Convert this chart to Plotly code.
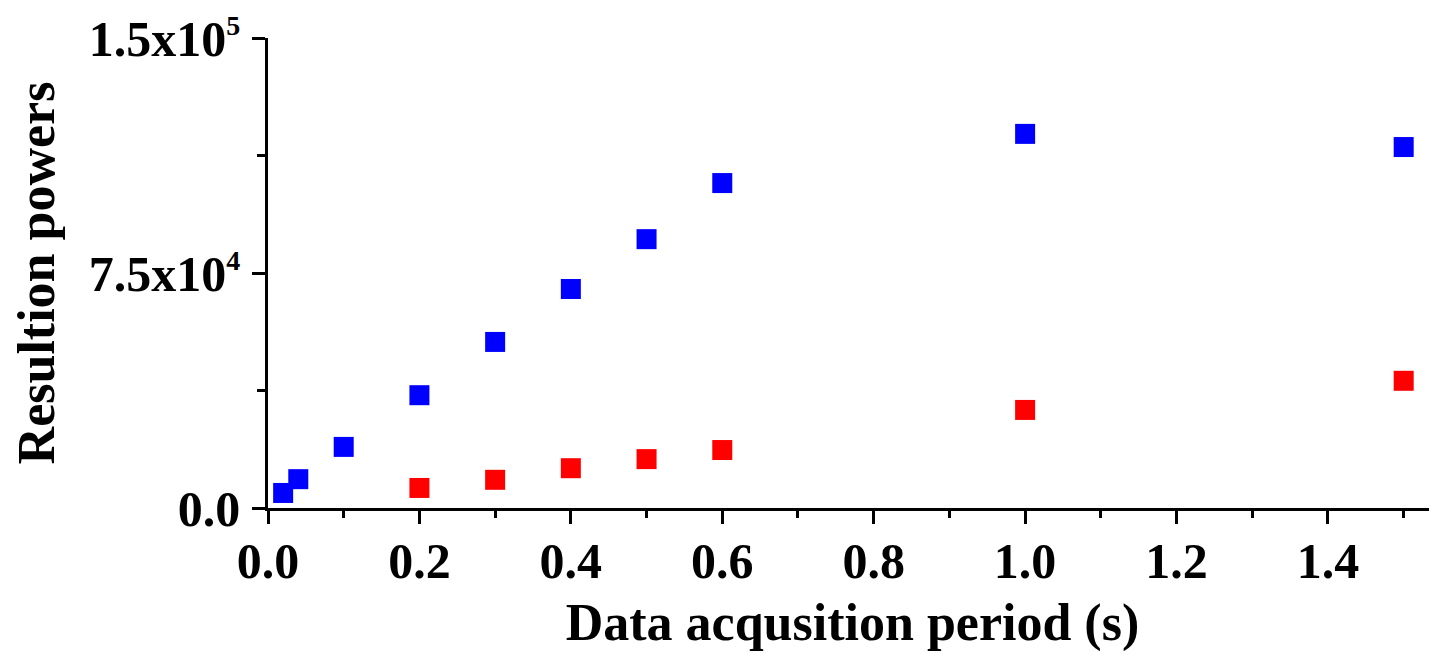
import plotly.graph_objects as go

# Data
blue_x = [0.02, 0.04, 0.1, 0.2, 0.3, 0.4, 0.5, 0.6, 1.0, 1.5]
blue_y = [4800, 9200, 19500, 36000, 53000, 69900, 85800, 103700, 119400, 115200]
red_x = [0.2, 0.3, 0.4, 0.5, 0.6, 1.0, 1.5]
red_y = [6400, 9000, 12700, 15600, 18500, 31300, 40600]

x_tickvals = [0.0, 0.2, 0.4, 0.6, 0.8, 1.0, 1.2, 1.4]
x_ticktext = ["0.0", "0.2", "0.4", "0.6", "0.8", "1.0", "1.2", "1.4"]
y_tickvals = [0, 75000, 150000]
y_ticktext = ["0.0",
              "7.5x10<sup><span style='font-size:28px'>4</span></sup>",
              "1.5x10<sup><span style='font-size:28px'>5</span></sup>"]

FONT = "Liberation Serif"

fig = go.Figure()
fig.add_trace(go.Scatter(x=blue_x, y=blue_y, mode="markers",
                         marker=dict(symbol="square", size=20, color="#0000FF"),
                         cliponaxis=False, showlegend=False))
fig.add_trace(go.Scatter(x=red_x, y=red_y, mode="markers",
                         marker=dict(symbol="square", size=20, color="#FF0000"),
                         cliponaxis=False, showlegend=False))

fig.update_layout(
    width=1429, height=646,
    margin=dict(l=260, r=0, t=30, b=146, autoexpand=False),
    plot_bgcolor="white", paper_bgcolor="white",
    font=dict(family=FONT, color="black"),
    xaxis=dict(
        range=[0, 1.544], showgrid=False, zeroline=False, automargin=False,
        showline=True, linecolor="black", linewidth=2.5,
        ticks="outside", ticklen=13, tickwidth=2.5, tickcolor="black",
        tickvals=x_tickvals, ticktext=x_ticktext,
        tickfont=dict(family=FONT, size=50, color="black", weight="bold"),
        ticklabelstandoff=-6, ticklabeloverflow="allow",
        minor=dict(dtick=0.1, tick0=0, ticks="outside", ticklen=7, tickwidth=2.5, tickcolor="black"),
        title=dict(text="<b>Data acqusition period (s)</b>", standoff=16,
                   font=dict(family=FONT, size=52, color="black")),
    ),
    yaxis=dict(
        range=[0, 150000], showgrid=False, zeroline=False, automargin=False,
        showline=True, linecolor="black", linewidth=2.5,
        ticks="outside", ticklen=13, tickwidth=2.5, tickcolor="black",
        tickvals=y_tickvals, ticktext=y_ticktext,
        tickfont=dict(family=FONT, size=50, color="black", weight="bold"),
        ticklabelstandoff=2, ticklabeloverflow="allow",
        minor=dict(dtick=37500, tick0=0, ticks="outside", ticklen=8, tickwidth=2.5, tickcolor="black"),
        title=dict(text="<b>Resultion powers</b>", standoff=26,
                   font=dict(family=FONT, size=52, color="black")),
    ),
)

fig.write_html("out.html")
